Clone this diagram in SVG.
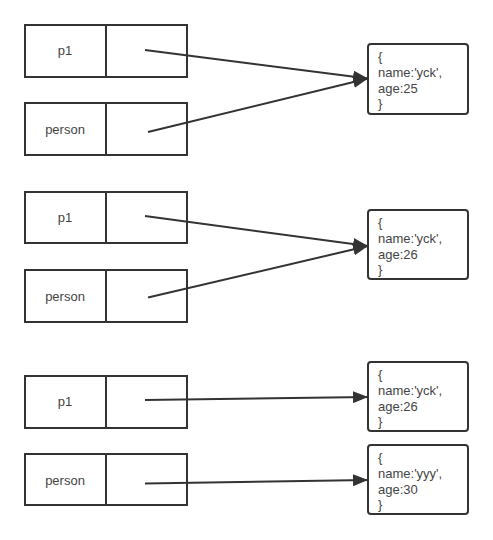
<svg xmlns="http://www.w3.org/2000/svg" width="493" height="540" viewBox="0 0 493 540">
<style>
.box{fill:#fff;stroke:#333;stroke-width:2}
.obj{fill:#fff;stroke:#333;stroke-width:2}
.lbl{font-family:"Liberation Sans",Arial,sans-serif;font-size:13px;fill:#444;text-anchor:middle}
.txt{font-family:"Liberation Sans",Arial,sans-serif;font-size:13px;fill:#444}
.edge{fill:none;stroke:#333;stroke-width:2;marker-end:url(#ah)}
</style>
<defs>
<marker id="ah" markerUnits="userSpaceOnUse" markerWidth="15" markerHeight="12" refX="15" refY="6" orient="auto">
<path d="M0,0 L15,6 L0,12 z" fill="#333"/>
</marker>
</defs>
<rect width="493" height="540" fill="#fff"/>

<g id="g1-p1"><rect class="box" x="25" y="25" width="162" height="52"/><line class="box" x1="106" y1="25" x2="106" y2="77"/><text class="lbl" x="65" y="55">p1</text></g>
<g id="g1-person"><rect class="box" x="25" y="103" width="162" height="52"/><line class="box" x1="106" y1="103" x2="106" y2="155"/><text class="lbl" x="65" y="134">person</text></g>
<g id="g1-obj"><rect class="obj" x="368" y="44" width="100" height="70" rx="3"/><text class="txt" x="378"><tspan x="378" y="61">{</tspan><tspan x="378" y="77">name:'yck',</tspan><tspan x="378" y="93">age:25</tspan><tspan x="378" y="108">}</tspan></text></g>

<g id="g2-p1"><rect class="box" x="25" y="192" width="162" height="51"/><line class="box" x1="106" y1="192" x2="106" y2="243"/><text class="lbl" x="65" y="222">p1</text></g>
<g id="g2-person"><rect class="box" x="25" y="270" width="162" height="52"/><line class="box" x1="106" y1="270" x2="106" y2="322"/><text class="lbl" x="65" y="301">person</text></g>
<g id="g2-obj"><rect class="obj" x="368" y="210" width="100" height="69" rx="3"/><text class="txt" x="378"><tspan x="378" y="227">{</tspan><tspan x="378" y="243">name:'yck',</tspan><tspan x="378" y="259">age:26</tspan><tspan x="378" y="274">}</tspan></text></g>

<g id="g3-p1"><rect class="box" x="25" y="376" width="162" height="52"/><line class="box" x1="106" y1="376" x2="106" y2="428"/><text class="lbl" x="65" y="406">p1</text></g>
<g id="g3-person"><rect class="box" x="25" y="454" width="162" height="51"/><line class="box" x1="106" y1="454" x2="106" y2="505"/><text class="lbl" x="65" y="485">person</text></g>
<g id="g3-obj1"><rect class="obj" x="368" y="362" width="100" height="69" rx="3"/><text class="txt" x="378"><tspan x="378" y="379">{</tspan><tspan x="378" y="395">name:'yck',</tspan><tspan x="378" y="411">age:26</tspan><tspan x="378" y="426">}</tspan></text></g>
<g id="g3-obj2"><rect class="obj" x="368" y="445" width="100" height="69" rx="3"/><text class="txt" x="378"><tspan x="378" y="462">{</tspan><tspan x="378" y="478">name:'yyy',</tspan><tspan x="378" y="494">age:30</tspan><tspan x="378" y="509">}</tspan></text></g>

<g id="connectors">
<line class="edge" x1="145" y1="50" x2="368" y2="78.5"/>
<line class="edge" x1="148" y1="132" x2="368" y2="78.5"/>
<line class="edge" x1="145" y1="216" x2="368" y2="246"/>
<line class="edge" x1="148" y1="297.5" x2="368" y2="246"/>
<line class="edge" x1="145" y1="400" x2="368" y2="397"/>
<line class="edge" x1="145" y1="483.5" x2="368" y2="480"/>
</g>
</svg>
